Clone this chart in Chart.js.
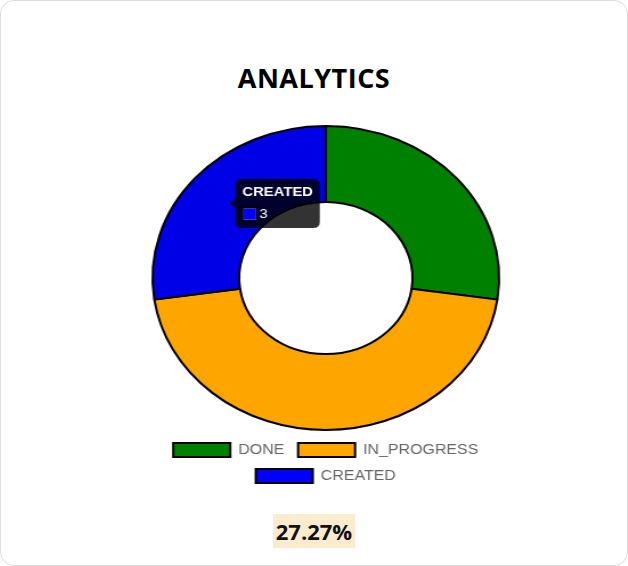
<!DOCTYPE html>
<html>
<head>
<script src="https://cdn.jsdelivr.net/npm/chart.js@4"></script>
<style>
  body { margin:0; background:#fff; width:628px; height:566px; overflow:hidden; font-family:"Open Sans", Arial, sans-serif; }
  .card { position:absolute; left:0; top:0; width:626px; height:564px; border:1px solid #ddd; border-radius:14px; background:#fff; }
  h1 { position:absolute; top:58px; width:100%; text-align:center; margin:0; font-size:27px; font-weight:700; color:#000; letter-spacing:0.5px; }
  .wrap { position:absolute; left:131px; top:120px; width:340px; height:372px; transform:scaleX(1.14); transform-origin:0 0; }
  .pct { position:absolute; top:515px; left:0; width:100%; text-align:center; }
  .pct span { background:#fdebd0; font-size:22px; font-weight:700; padding:2px 3px; color:#111; }
</style>
</head>
<body>
<div class="card">
  <h1>ANALYTICS</h1>
  <div class="wrap"><canvas id="chart" width="340" height="372"></canvas></div>
  <div class="pct"><span id="pct"></span></div>
</div>
<script>
var labels = ['DONE', 'IN_PROGRESS', 'CREATED'];
var counts = [3, 5, 3];
var colors = ['green', 'orange', 'blue'];

var total = counts.reduce(function(a, b) { return a + b; }, 0);
document.getElementById('pct').textContent = (counts[2] / total * 100).toFixed(2) + '%';

var ctx = document.getElementById('chart').getContext('2d');
var chart = new Chart(ctx, {
  type: 'doughnut',
  data: {
    labels: labels,
    datasets: [{ data: counts, backgroundColor: colors, borderColor: '#000', borderWidth: 2 }]
  },
  options: {
    responsive: false,
    animation: false,
    cutout: '50%',
    layout: { padding: { top: 4 } },
    plugins: {
      legend: {
        position: 'bottom',
        labels: { boxWidth: 50, boxHeight: 14, color: '#666', font: { family: 'Arial', size: 14 }, padding: 12 }
      },
      tooltip: {
        titleFont: { family: 'Arial', size: 13, weight: 'bold' },
        bodyFont: { family: 'Arial', size: 13 },
        callbacks: { label: function(c) { return c.raw; } }
      }
    }
  }
});
var arc = chart.getDatasetMeta(0).data[2];
chart.tooltip.setActiveElements([{ datasetIndex: 0, index: 2 }], { x: arc.x - 75, y: arc.y - 75 });
chart.setActiveElements([{ datasetIndex: 0, index: 2 }]);
chart.update();
</script>
</body>
</html>
